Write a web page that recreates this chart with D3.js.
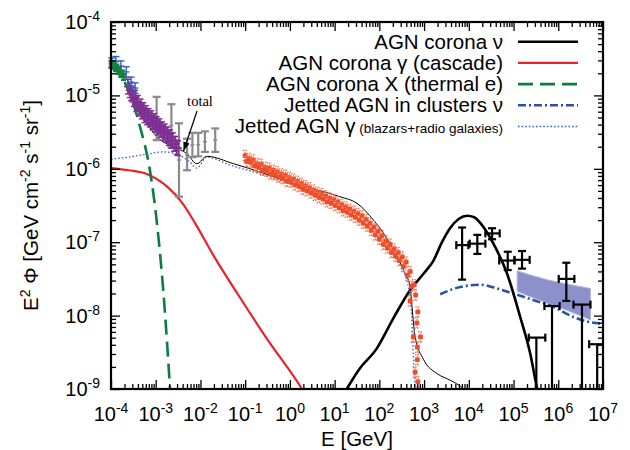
<!DOCTYPE html>
<html><head><meta charset="utf-8">
<script src="https://cdn.jsdelivr.net/npm/d3@7"></script>
<style>body{margin:0;background:#fff}svg text{font-family:"Liberation Sans",Arial,Helvetica,sans-serif}</style>
</head><body><svg id="c" width="630" height="450"></svg>
<script>
// ---------- DATA (log10 E [GeV], log10 E^2 Phi) ----------
const coronaNu=[[1.27,-9.0],[1.55,-8.73],[1.94,-8.45],[2.3,-8.05],[2.69,-7.65],[3.0,-7.42],[3.21,-7.25],[3.4,-7.0],[3.58,-6.81],[3.78,-6.68],[3.96,-6.64],[4.12,-6.66],[4.26,-6.74],[4.55,-7.02],[4.85,-7.42],[5.15,-8.02],[5.37,-8.51],[5.52,-8.97],[5.55,-9.05]];
const cascadeGamma=[[-4,-5.99],[-3.6,-6.02],[-3.2,-6.07],[-2.75,-6.24],[-2.4,-6.47],[-2.12,-6.74],[-1.71,-7.18],[-1.11,-7.76],[-0.52,-8.31],[0.27,-9.0],[0.35,-9.08]];
const thermalX=[[-4,-4.59],[-3.65,-4.88],[-3.35,-5.43],[-3.13,-6.02],[-2.98,-6.70],[-2.83,-7.67],[-2.68,-9.0],[-2.66,-9.2]];
const clusterNu=[[3.36,-7.71],[3.81,-7.61],[4.26,-7.58],[4.63,-7.63],[5.0,-7.70],[5.45,-7.79],[5.89,-7.88],[6.34,-8.02],[6.64,-8.08],[7.0,-8.11]];
const jettedGamma=[[-4,-5.87],[-3.6,-5.84],[-3.2,-5.80],[-2.83,-5.77],[-2.53,-5.80],[-2.25,-5.9],[-2.08,-5.99],[-1.86,-5.84],[-1.34,-5.95],[-0.6,-6.08],[0.15,-6.24],[0.9,-6.40],[1.27,-6.52],[1.79,-6.74],[2.17,-7.02],[2.47,-7.33],[2.65,-7.61],[2.73,-8.10],[2.76,-8.56],[2.80,-8.97],[2.81,-9.1]];
const total=[[-4,-4.59],[-3.65,-4.77],[-3.43,-5.15],[-3.2,-5.38],[-2.98,-5.56],[-2.61,-5.70],[-2.31,-5.79],[-2.08,-5.93],[-1.86,-5.83],[-1.26,-5.93],[-0.59,-6.06],[0.08,-6.20],[1.12,-6.38],[1.5,-6.47],[1.87,-6.70],[2.24,-7.02],[2.54,-7.38],[2.69,-7.61],[2.73,-7.88],[2.80,-8.29],[2.99,-8.60],[3.29,-8.79],[3.58,-8.88],[3.88,-9.0],[3.95,-9.05]];
// IceCube band: [logE, lower, upper]
const bandE=[5.08,5.75,6.2,6.72];
const bandLo=[-7.67,-7.83,-7.93,-8.06];
const bandHi=[-7.39,-7.51,-7.57,-7.63];
// IceCube points: [logE, Emin, Emax, F, Fmin, Fmax]
const nuPoints=[[3.85,3.72,3.99,-7.04,-7.51,-6.80],[4.19,4.02,4.37,-7.02,-7.16,-6.90],[4.52,4.37,4.69,-6.88,-6.96,-6.81],[4.87,4.68,5.02,-7.25,-7.38,-7.13],[5.19,5.02,5.36,-7.24,-7.36,-7.12],[6.18,6.01,6.36,-7.50,-7.80,-7.28]];
// points whose lower error reaches zero: [logE, Emin, Emax, F]
const nuZeroLow=[[5.51,5.34,5.71,-8.30],[5.86,5.69,6.03,-7.87],[6.53,6.34,6.72,-7.85],[6.87,6.69,7.0,-8.39]];
// COMPTEL-like gray bars: [logE, Fmin, Fmax]
const grayBars=[[-2.98,-5.61,-5.02],[-2.65,-5.70,-5.12],[-2.48,-6.38,-5.38],[-2.30,-6.02,-5.59],[-2.18,-5.84,-5.51],[-2.05,-5.83,-5.51],[-1.90,-5.77,-5.49],[-1.67,-5.77,-5.45]];
const purplePts=[[-3.62,-4.88],[-3.58,-4.93],[-3.55,-4.97],[-3.52,-4.99],[-3.49,-5.05],[-3.46,-5.03],[-3.43,-5.12],[-3.40,-5.10],[-3.37,-5.18],[-3.34,-5.15],[-3.31,-5.22],[-3.28,-5.20],[-3.25,-5.27],[-3.22,-5.24],[-3.19,-5.30],[-3.16,-5.28],[-3.13,-5.33],[-3.10,-5.31],[-3.07,-5.37],[-3.04,-5.35],[-3.01,-5.40],[-2.98,-5.39],[-2.95,-5.44],[-2.92,-5.42],[-2.89,-5.47],[-2.86,-5.46],[-2.83,-5.51],[-2.80,-5.49],[-2.77,-5.54],[-2.74,-5.53],[-2.71,-5.58],[-2.68,-5.57],[-2.65,-5.62],[-2.62,-5.61],[-2.59,-5.66],[-2.56,-5.66],[-2.53,-5.71],[-2.50,-5.72]];
const bluePts=[[-3.98,-4.56],[-3.89,-4.54],[-3.78,-4.60],[-3.66,-4.68],[-3.55,-4.82],[-3.46,-4.90]];
const greenPts=[[-4.0,-4.57],[-3.96,-4.60],[-3.93,-4.58],[-3.90,-4.63],[-3.87,-4.62],[-3.84,-4.67],[-3.81,-4.66],[-3.78,-4.71],[-3.75,-4.70],[-3.72,-4.75]];
const fermiA=[[-1.00,-5.82],[-0.91,-5.86],[-0.82,-5.88],[-0.73,-5.93],[-0.64,-5.94],[-0.55,-5.98],[-0.46,-5.99],[-0.37,-6.02],[-0.28,-6.04],[-0.19,-6.07],[-0.10,-6.09],[-0.01,-6.12],[0.08,-6.14],[0.17,-6.17],[0.26,-6.20],[0.35,-6.23],[0.44,-6.26],[0.53,-6.29],[0.62,-6.32],[0.71,-6.34],[0.80,-6.37],[0.89,-6.40],[0.98,-6.42],[1.07,-6.45],[1.16,-6.49],[1.25,-6.52],[1.34,-6.55],[1.43,-6.58],[1.52,-6.61],[1.61,-6.64],[1.70,-6.69],[1.79,-6.74],[1.88,-6.79],[1.97,-6.85],[2.06,-6.91],[2.15,-6.98],[2.24,-7.03],[2.33,-7.09],[2.42,-7.14],[2.51,-7.20],[2.60,-7.27],[2.69,-7.40],[2.78,-7.58]];
const fermiB=[[-0.97,-5.90],[-0.88,-5.91],[-0.79,-5.96],[-0.70,-5.98],[-0.61,-6.02],[-0.52,-6.03],[-0.43,-6.07],[-0.34,-6.08],[-0.25,-6.11],[-0.16,-6.13],[-0.07,-6.17],[0.02,-6.18],[0.11,-6.22],[0.20,-6.24],[0.29,-6.28],[0.38,-6.30],[0.47,-6.33],[0.56,-6.36],[0.65,-6.39],[0.74,-6.41],[0.83,-6.45],[0.92,-6.47],[1.01,-6.50],[1.10,-6.53],[1.19,-6.57],[1.28,-6.59],[1.37,-6.63],[1.46,-6.66],[1.55,-6.70],[1.64,-6.74],[1.73,-6.78],[1.82,-6.84],[1.91,-6.90],[2.00,-6.96],[2.09,-7.03],[2.18,-7.08],[2.27,-7.14],[2.36,-7.19],[2.45,-7.25],[2.54,-7.33],[2.63,-7.45],[2.72,-7.60],[2.81,-7.72]];
const fermiTail=[[2.69,-7.80],[2.86,-7.95],[2.84,-8.10],[2.76,-8.29],[2.92,-8.29],[2.85,-8.43],[2.85,-8.60],[2.80,-8.77],[2.86,-8.90]];
const xTickExp=[-4,-3,-2,-1,0,1,2,3,4,5,6,7];
const yTickExp=[-9,-8,-7,-6,-5,-4];
const legendLabels=["AGN corona ν","AGN corona γ (cascade)","AGN corona X (thermal e)","Jetted AGN in clusters ν","Jetted AGN γ"];
const legendSmall=" (blazars+radio galaxies)";
const annot={text:"total",at:[-2.01,-5.144],from:[-2.076,-5.213],to:[-2.378,-5.757]};

// ---------- SETUP ----------
const L=111,R=603,T=22,B=389;
const P=v=>Math.pow(10,v);
const x=d3.scaleLog().domain([1e-4,1e7]).range([L,R]);
const y=d3.scaleLog().domain([1e-9,1e-4]).range([B,T]);
const X=v=>x(P(v)), Y=v=>y(P(v));
const svg=d3.select('#c');
svg.append('defs').append('clipPath').attr('id','clip').append('rect').attr('x',L).attr('y',T).attr('width',R-L).attr('height',B-T);
const plot=svg.append('g').attr('clip-path','url(#clip)');
const free=svg.append('g');

const styles={
 coronaNu:{c:'#000',w:2.6,d:null},
 cascade:{c:'#e8242b',w:2.2,d:null},
 thermal:{c:'#0b7d3e',w:2.6,d:'15,7'},
 cluster:{c:'#2753a6',w:2.6,d:'8,3,2,3'},
 jetted:{c:'#3a62c6',w:1.3,d:'1.6,2'},
 total:{c:'#000',w:1,d:null}
};

// band
const band=bandE.map((e,i)=>[e,bandLo[i],bandHi[i]]);
plot.append('path').datum(band)
 .attr('d',d3.area().x(d=>X(d[0])).y0(d=>Y(d[1])).y1(d=>Y(d[2])).curve(d3.curveMonotoneX))
 .attr('fill','#8c90cb').attr('stroke','#b7badf').attr('stroke-width',1);

// gray bars
const gg=free.append('g').attr('stroke','#8a8a8a').attr('stroke-width',2.2);
grayBars.forEach(d=>{
 const xx=X(d[0]);
 gg.append('line').attr('x1',xx).attr('x2',xx).attr('y1',Y(d[1])).attr('y2',Y(d[2]));
 [d[1],d[2]].forEach(v=>gg.append('line').attr('x1',xx-4).attr('x2',xx+4).attr('y1',Y(v)).attr('y2',Y(v)));
 const m=(d[1]+d[2])/2;
 gg.append('line').attr('x1',xx-2).attr('x2',xx+2).attr('y1',Y(m)).attr('y2',Y(m)).attr('stroke-width',1.5);
});

function crosses(g,pts,col,dx,dy,cap,w){
 const gr=g.append('g').attr('stroke',col).attr('stroke-width',w);
 pts.forEach(d=>{
  const cx=X(d[0]),cy=Y(d[1]);
  const x0=X(d[0]-dx),x1=X(d[0]+dx),y0=Y(d[1]-dy),y1=Y(d[1]+dy);
  gr.append('line').attr('x1',x0).attr('x2',x1).attr('y1',cy).attr('y2',cy);
  gr.append('line').attr('x1',cx).attr('x2',cx).attr('y1',y0).attr('y2',y1);
  if(cap){
   gr.append('line').attr('x1',cx-cap).attr('x2',cx+cap).attr('y1',y0).attr('y2',y0);
   gr.append('line').attr('x1',cx-cap).attr('x2',cx+cap).attr('y1',y1).attr('y2',y1);
  }
 });
}
crosses(free,purplePts,'#7d2f92',0.09,0.1,3,1.5);
crosses(free,bluePts,'#2f5fbf',0.07,0.07,3.5,1.4);
crosses(free,greenPts,'#16803f',0.05,0.04,2.5,2.2);

// Fermi-like points
function fermi(pts){
 const gr=free.append('g');
 pts.forEach(d=>{
  const cx=X(d[0]),cy=Y(d[1]);
  const x0=X(d[0]-0.06),x1=X(d[0]+0.06),y0=Y(d[1]-0.07),y1=Y(d[1]+0.07);
  const ln=(a,b,c,e)=>gr.append('line').attr('x1',a).attr('x2',b).attr('y1',c).attr('y2',e).attr('stroke','#f47454').attr('stroke-width',1.3).attr('stroke-dasharray','1.5,1');
  ln(x0,x1,cy,cy);ln(cx,cx,y0,y1);
  ln(cx-2.5,cx+2.5,y0,y0);ln(cx-2.5,cx+2.5,y1,y1);
  gr.append('rect').attr('x',cx-2.3).attr('y',cy-2.3).attr('width',4.6).attr('height',4.6).attr('fill','#ef4b26');
 });
}
fermi(fermiA);fermi(fermiB);fermi(fermiTail);

// IceCube points
const ig=free.append('g').attr('stroke','#000').attr('stroke-width',2.2);
nuPoints.forEach(d=>{
 const cx=X(d[0]),cy=Y(d[3]);
 ig.append('line').attr('x1',X(d[1])).attr('x2',X(d[2])).attr('y1',cy).attr('y2',cy);
 ig.append('line').attr('x1',cx).attr('x2',cx).attr('y1',Y(d[4])).attr('y2',Y(d[5]));
 [d[1],d[2]].forEach(v=>ig.append('line').attr('x1',X(v)).attr('x2',X(v)).attr('y1',cy-4).attr('y2',cy+4));
 [d[4],d[5]].forEach(v=>ig.append('line').attr('x1',cx-4).attr('x2',cx+4).attr('y1',Y(v)).attr('y2',Y(v)));
});
nuZeroLow.forEach(d=>{
 const cx=X(d[0]),cy=Y(d[3]);
 ig.append('line').attr('x1',X(d[1])).attr('x2',Math.min(X(d[2]),R)).attr('y1',cy).attr('y2',cy);
 ig.append('line').attr('x1',cx).attr('x2',cx).attr('y1',cy).attr('y2',y(1e-9));
 [d[1],d[2]].forEach(v=>{ if(X(v)<R-0.5) ig.append('line').attr('x1',X(v)).attr('x2',X(v)).attr('y1',cy-4).attr('y2',cy+4);});
});

// curves
function curve(data,s){
 plot.append('path').datum(data)
  .attr('d',d3.line().x(d=>X(d[0])).y(d=>Y(d[1])).curve(d3.curveMonotoneX))
  .attr('fill','none').attr('stroke',s.c).attr('stroke-width',s.w).attr('stroke-dasharray',s.d);
}
curve(cascadeGamma,styles.cascade);
curve(thermalX,styles.thermal);
curve(clusterNu,styles.cluster);
curve(jettedGamma,styles.jetted);
curve(coronaNu,styles.coronaNu);
curve(total,styles.total);

// axes ticks
const majX=xTickExp.map(P), minX=[], majY=yTickExp.map(P), minY=[];
xTickExp.slice(0,-1).forEach(e=>{for(let k=2;k<10;k++)minX.push(k*P(e));});
yTickExp.slice(0,-1).forEach(e=>{for(let k=2;k<10;k++)minY.push(k*P(e));});
function ticks(gen,sc,vals,size,tr){
 svg.append('g').attr('transform',tr).call(gen(sc).tickValues(vals).tickSize(size).tickFormat(''))
  .call(g=>{g.select('.domain').remove();g.selectAll('line').attr('stroke','#000').attr('stroke-width',1.3);});
}
ticks(d3.axisBottom,x,majX,-9,`translate(0,${B})`);ticks(d3.axisBottom,x,minX,-5,`translate(0,${B})`);
ticks(d3.axisTop,x,majX,-9,`translate(0,${T})`);ticks(d3.axisTop,x,minX,-5,`translate(0,${T})`);
ticks(d3.axisLeft,y,majY,-9,`translate(${L},0)`);ticks(d3.axisLeft,y,minY,-5,`translate(${L},0)`);
ticks(d3.axisRight,y,majY,-9,`translate(${R},0)`);ticks(d3.axisRight,y,minY,-5,`translate(${R},0)`);
svg.append('rect').attr('x',L).attr('y',T).attr('width',R-L).attr('height',B-T).attr('fill','none').attr('stroke','#000').attr('stroke-width',2.2);

// tick labels
function powLabel(g,e,xx,yy,anchor){
 const t=g.append('text').attr('x',xx).attr('y',yy).attr('text-anchor',anchor).style('font-size','20px').attr('fill','#000');
 t.append('tspan').text('10');
 t.append('tspan').attr('dy',-8).style('font-size','14px').text(String(e));
}
xTickExp.forEach(e=>powLabel(svg,e,x(P(e)),421,'middle'));
yTickExp.forEach(e=>powLabel(svg,e,100,y(P(e))+7,'end'));

// axis titles
svg.append('text').attr('x',(L+R)/2).attr('y',446).attr('text-anchor','middle').style('font-size','20.5px').text('E [GeV]');
const yt=svg.append('text').attr('transform',`translate(38,${(T+B)/2}) rotate(-90)`).attr('text-anchor','middle').style('font-size','20.5px');
[["E",0],["2",1],[" Φ [GeV cm",0],["-2",1],[" s",0],["-1",1],[" sr",0],["-1",1],["]",0]].forEach((p,i,a)=>{
 const ts=yt.append('tspan').text(p[0]);
 if(p[1]){ts.attr('dy',-8).style('font-size','14px');}
 else if(i>0&&a[i-1][1]){ts.attr('dy',8);}
});

// legend
const lg=svg.append('g');
const lstyles=[styles.coronaNu,styles.cascade,styles.thermal,styles.cluster,{c:'#3a62c6',w:1.3,d:'1.6,2'}];
legendLabels.forEach((lab,i)=>{
 const cy=41.7+i*21.2;
 const t=lg.append('text').attr('x',503).attr('y',cy+6.8).attr('text-anchor','end').style('font-size','20.5px').text(lab);
 if(i===4) t.append('tspan').style('font-size','13.5px').text(legendSmall);
 const s=lstyles[i];
 lg.append('line').attr('x1',518).attr('x2',578).attr('y1',cy).attr('y2',cy).attr('stroke',s.c).attr('stroke-width',s.w).attr('stroke-dasharray',s.d);
});

// annotation
svg.append('text').attr('x',X(annot.at[0])).attr('y',Y(annot.at[1])).attr('text-anchor','middle')
 .style('font-family','"Liberation Serif","Times New Roman",serif').style('font-size','14.5px').text(annot.text);
const ax0=X(annot.from[0]),ay0=Y(annot.from[1]),ax1=X(annot.to[0]),ay1=Y(annot.to[1]);
svg.append('line').attr('x1',ax0).attr('y1',ay0).attr('x2',ax1).attr('y2',ay1).attr('stroke','#000').attr('stroke-width',1.2);
const ang=Math.atan2(ay1-ay0,ax1-ax0),hl=9,hw=3.2;
const bx=ax1-hl*Math.cos(ang),by=ay1-hl*Math.sin(ang);
svg.append('path').attr('d',`M${ax1},${ay1}L${bx+hw*Math.sin(ang)},${by-hw*Math.cos(ang)}L${bx-hw*Math.sin(ang)},${by+hw*Math.cos(ang)}Z`).attr('fill','#000');
</script></body></html>
